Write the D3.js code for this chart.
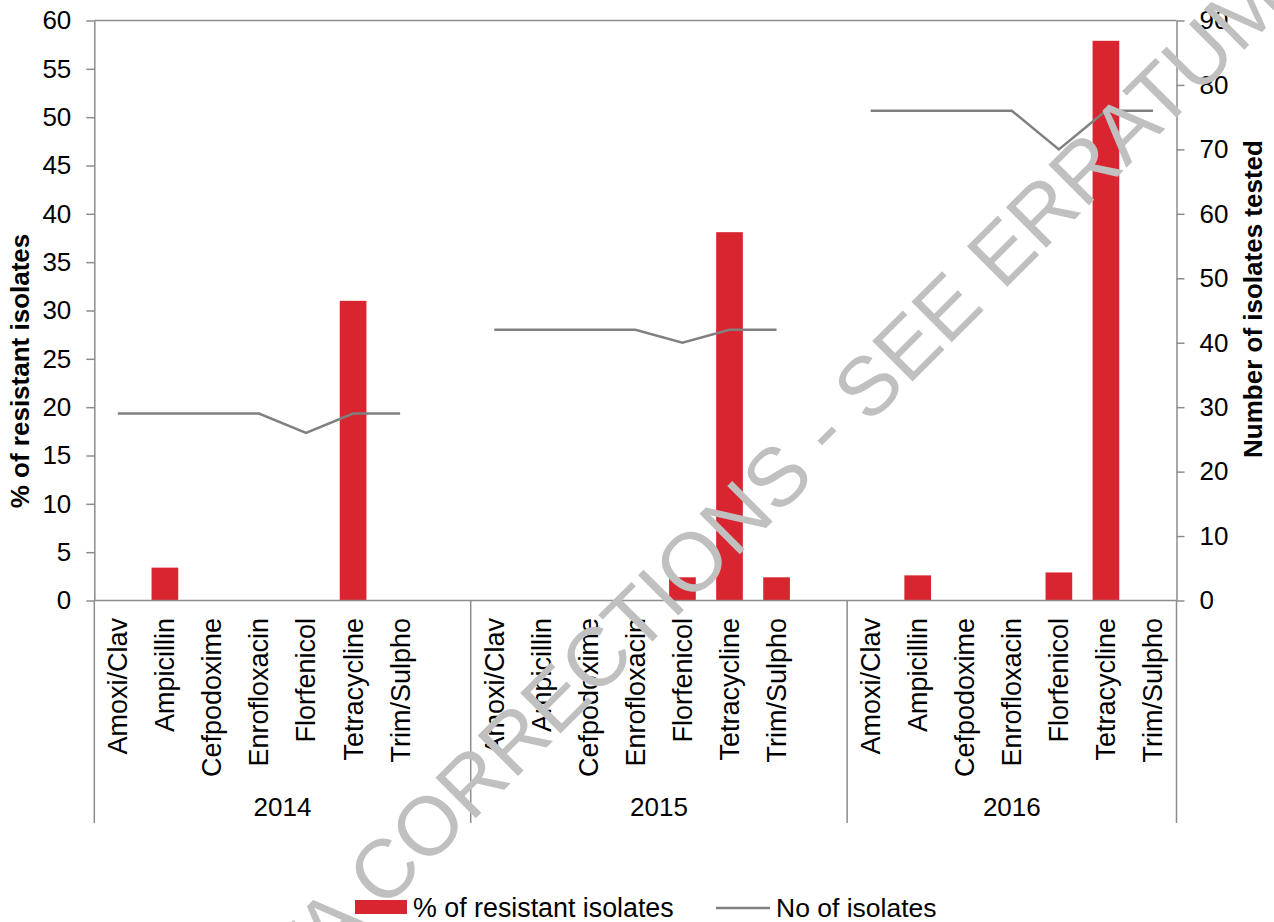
<!DOCTYPE html>
<html>
<head>
<meta charset="utf-8">
<script src="https://cdn.jsdelivr.net/npm/d3@7/dist/d3.min.js"></script>
<style>
  html, body { margin: 0; padding: 0; background: #ffffff; }
  svg { display: block; font-family: "Liberation Sans", Arial, sans-serif; }
</style>
</head>
<body>
<svg id="chart" width="1274" height="922"></svg>
<script>
// Antimicrobial resistance by year and drug
const years = ["2014", "2015", "2016"];
const drugs = ["Amoxi/Clav", "Ampicillin", "Cefpodoxime", "Enrofloxacin", "Florfenicol", "Tetracycline", "Trim/Sulpho"];

// % of resistant isolates, per drug
const resist2014 = [0, 3.4, 0, 0, 0, 31.0, 0];
const resist2015 = [0, 0, 0, 0, 2.4, 38.1, 2.4];
const resist2016 = [0, 2.6, 0, 0, 2.9, 57.9, 0];

// number of isolates tested, per drug
const isolates2014 = [29, 29, 29, 29, 26, 29, 29];
const isolates2015 = [42, 42, 42, 42, 40, 42, 42];
const isolates2016 = [76, 76, 76, 76, 70, 76, 76];

const leftTicks = [0, 5, 10, 15, 20, 25, 30, 35, 40, 45, 50, 55, 60];
const rightTicks = [0, 10, 20, 30, 40, 50, 60, 70, 80, 90];

const resistByYear = [resist2014, resist2015, resist2016];
const isolatesByYear = [isolates2014, isolates2015, isolates2016];

const RED = "#d9252f";
const LINE = "#808080";
const AXIS = "#8c8c8c";
const FONT = 26;

const svg = d3.select("#chart");

const plot = { left: 94.3, right: 1176.5, top: 20.5, bottom: 600.5 };
const catBottom = 823;

// Category slots: every year holds its drugs, the first two followed by an empty slot
const slots = [];
years.forEach((y, i) => {
  drugs.forEach(d => slots.push(y + "|" + d));
  if (i < years.length - 1) slots.push(y + "|");
});

const x = d3.scaleBand().domain(slots).range([plot.left, plot.right]).padding(0);
const yL = d3.scaleLinear().domain([0, 60]).range([plot.bottom, plot.top]);
const yR = d3.scaleLinear().domain([0, 90]).range([plot.bottom, plot.top]);

const bw = x.bandwidth();
const barW = bw * 0.567;
const cx = key => x(key) + bw / 2;

// Flattened records
const rows = [];
years.forEach((y, i) => drugs.forEach((d, j) => rows.push({
  year: y, drug: d, key: y + "|" + d,
  pct: resistByYear[i][j], n: isolatesByYear[i][j]
})));

// Bars
svg.append("g").selectAll("rect")
  .data(rows.filter(r => r.pct > 0))
  .join("rect")
  .attr("x", r => cx(r.key) - barW / 2)
  .attr("width", barW)
  .attr("y", r => yL(r.pct))
  .attr("height", r => yL(0) - yL(r.pct))
  .attr("fill", RED);

// Top border of the plot area
svg.append("line")
  .attr("x1", plot.left).attr("x2", plot.right)
  .attr("y1", plot.top).attr("y2", plot.top)
  .attr("stroke", AXIS).attr("stroke-width", 1.5);

// Left axis
const gL = svg.append("g")
  .attr("transform", `translate(${plot.left},0)`)
  .call(d3.axisLeft(yL).tickValues(leftTicks).tickSize(8).tickSizeOuter(0).tickPadding(15));

// Right axis
const gR = svg.append("g")
  .attr("transform", `translate(${plot.right},0)`)
  .call(d3.axisRight(yR).tickValues(rightTicks).tickSize(8).tickSizeOuter(0).tickPadding(15));

[gL, gR].forEach(g => {
  g.selectAll("path, line").attr("stroke", AXIS).attr("stroke-width", 1.5);
  g.selectAll("text").attr("font-size", FONT).attr("fill", "#000")
    .attr("font-family", "Liberation Sans, Arial, sans-serif");
});

// Category axis baseline
svg.append("line")
  .attr("x1", plot.left).attr("x2", plot.right)
  .attr("y1", plot.bottom).attr("y2", plot.bottom)
  .attr("stroke", AXIS).attr("stroke-width", 1.5);

// Group dividers running down through the category labels
const bounds = years.map(y => x(y + "|" + drugs[0])).concat([plot.right]);
svg.append("g").selectAll("line")
  .data(bounds)
  .join("line")
  .attr("x1", d => d).attr("x2", d => d)
  .attr("y1", plot.bottom).attr("y2", catBottom)
  .attr("stroke", AXIS).attr("stroke-width", 1.5);

// Drug labels (rotated)
svg.append("g").selectAll("text")
  .data(rows)
  .join("text")
  .attr("transform", r => `translate(${cx(r.key)},618) rotate(-90)`)
  .attr("text-anchor", "end")
  .attr("dy", "0.35em")
  .attr("font-size", 27)
  .text(r => r.drug);

// Year labels
svg.append("g").selectAll("text")
  .data(years)
  .join("text")
  .attr("x", (y, i) => (bounds[i] + bounds[i + 1]) / 2)
  .attr("y", 816)
  .attr("text-anchor", "middle")
  .attr("font-size", FONT)
  .text(y => y);

// Number of isolates line, one segment per year
const line = d3.line().x(r => cx(r.key)).y(r => yR(r.n));
years.forEach(y => {
  svg.append("path")
    .datum(rows.filter(r => r.year === y))
    .attr("d", line)
    .attr("fill", "none")
    .attr("stroke", LINE)
    .attr("stroke-width", 2.5)
    .attr("stroke-linejoin", "miter");
});

// Axis titles
svg.append("text")
  .attr("transform", "translate(29,371) rotate(-90)")
  .attr("text-anchor", "middle")
  .attr("font-size", FONT).attr("font-weight", "bold")
  .text("% of resistant isolates");

svg.append("text")
  .attr("transform", "translate(1262,299) rotate(-90)")
  .attr("text-anchor", "middle")
  .attr("font-size", FONT).attr("font-weight", "bold")
  .text("Number of isolates tested");

// Legend
const lg = svg.append("g");
lg.append("rect").attr("x", 355).attr("y", 900).attr("width", 52).attr("height", 14).attr("fill", RED);
lg.append("text").attr("x", 413).attr("y", 917).attr("font-size", 26.8).text("% of resistant isolates");
lg.append("line").attr("x1", 716).attr("x2", 770).attr("y1", 908).attr("y2", 908)
  .attr("stroke", LINE).attr("stroke-width", 2.5);
lg.append("text").attr("x", 776).attr("y", 917).attr("font-size", 26.5).text("No of isolates");

// Watermark
svg.append("text")
  .attr("transform", "translate(222,1072) rotate(-45)")
  .attr("font-size", 83)
  .attr("fill", "#c0c0c0")
  .text("DATA CORRECTIONS - SEE ERRATUM");
</script>
</body>
</html>
